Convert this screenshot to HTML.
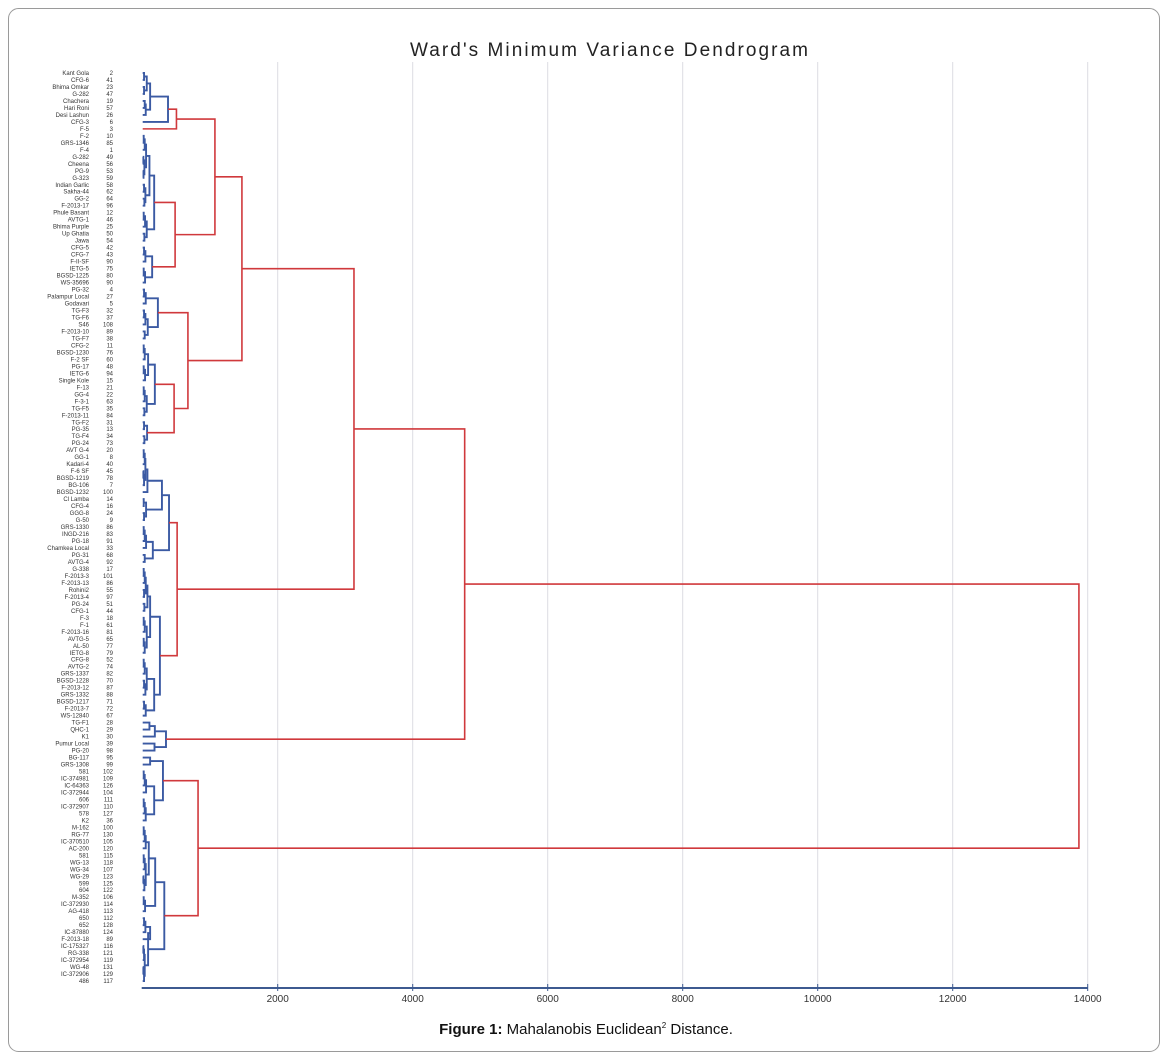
<!DOCTYPE html>
<html><head><meta charset="utf-8"><style>
body{margin:0;background:#fff;}
svg{display:block;font-family:"Liberation Sans",sans-serif;}
</style></head><body>
<svg id="chart" width="1167" height="1063" viewBox="0 0 1167 1063" xmlns="http://www.w3.org/2000/svg">
<rect x="8.5" y="8.5" width="1151" height="1043" rx="10" fill="#fff" stroke="#9a9a9a" stroke-width="1"/>
<text x="410" y="56" font-size="19" textLength="398" lengthAdjust="spacing" fill="#222">Ward's Minimum Variance Dendrogram</text>
<text x="586" y="1034" text-anchor="middle" font-size="15" fill="#111"><tspan font-weight="bold">Figure 1:</tspan> Mahalanobis Euclidean<tspan font-size="8" dy="-6">2</tspan><tspan dy="6"> Distance.</tspan></text>
<g id="grid"></g><g id="axis"></g><g id="labels"></g><g id="tree"></g>
</svg>
<script>
const leafNames=["Kant Gola","CFG-6","Bhima Omkar","G-282","Chachera","Hari Roni","Desi Lashun","CFG-3","F-5","F-2","GRS-1346","F-4","G-282","Cheena","PG-9","G-323","Indian Garlic","Sakha-44","GG-2","F-2013-17","Phule Basant","AVTG-1","Bhima Purple","Up Ghatia","Jawa","CFG-5","CFG-7","F-II-SF","IETG-5","BGSD-1225","WS-35696","PG-32","Palampur Local","Godavari","TG-F3","TG-F6","S46","F-2013-10","TG-F7","CFG-2","BGSD-1230","F-2 SF","PG-17","IETG-6","Single Kole","F-13","GG-4","F-3-1","TG-F5","F-2013-11","TG-F2","PG-35","TG-F4","PG-24","AVT G-4","GG-1","Kadari-4","F-6 SF","BGSD-1219","BG-106","BGSD-1232","Cl Lamba","CFG-4","GGG-8","G-50","GRS-1330","INGD-216","PG-18","Chamkea Local","PG-31","AVTG-4","G-338","F-2013-3","F-2013-13","Rohini2","F-2013-4","PG-24","CFG-1","F-3","F-1","F-2013-16","AVTG-5","AL-50","IETG-8","CFG-8","AVTG-2","GRS-1337","BGSD-1228","F-2013-12","GRS-1332","BGSD-1217","F-2013-7","WS-12840","TG-F1","QHC-1","K1","Pumur Local","PG-20","BG-117","GRS-1308","581","IC-374981","IC-64363","IC-372944","606","IC-372907","578","K2","M-162","RG-77","IC-370510","AC-200","581","WG-13","WG-34","WG-29","599","604","M-352","IC-372930","AG-418","650","652","IC-87880","F-2013-18","IC-175327","RG-338","IC-372954","WG-48","IC-372906","486"];
const leafIds=["2","41","23","47","19","57","26","6","3","10","85","1","49","56","53","59","58","62","64","96","12","46","25","50","54","42","43","90","75","80","90","4","27","5","32","37","108","89","38","11","76","60","48","94","15","21","22","63","35","84","31","13","34","73","20","8","40","45","78","7","100","14","16","24","9","86","83","91","33","68","92","17","101","86","55","97","51","44","18","61","81","65","77","79","52","74","82","70","87","88","71","72","67","28","29","30","39","98","95","99","102","109","126","104","111","110","127","36","100","130","105","120","115","118","107","123","125","122","106","114","113","112","128","124","89","116","121","119","131","129","117"];
const xTicks=[2000,4000,6000,8000,10000,12000,14000];
// cluster merges: (left,right)height ; leaves are 1-based indices
const G1="((((1,2)20,(3,4)20)60,((5,6)30,7)45)110,8)375";
const G2="(((((10,11)15,12)30,((13,14)10,(15,16)12)25)50,((17,18)20,(19,20)25)40)100,(((21,22)15,23)35,(24,25)25)60)170";
const G3="(((26,27)20,28)40,((29,30)15,31)35)140";
const G4="(((32,33)20,34)45,(((35,36)20,37)40,(38,39)30)75)225";
const G5="((((40,41)15,42)30,((43,44)15,45)35)80,(((46,47)15,48)30,(49,50)25)60)180";
const G6="((51,52)20,(53,54)25)65";
const G7="((((((55,56)15,57)30,((58,59)10,60)20)40,61)70,((62,63)15,(64,65)20)50)285,((((66,67)15,68)30,69)50,(70,71)30)150)390";
const G8="((((((72,73)15,74)30,(75,76)20)45,(77,78)25)70,(((79,80)15,81)30,((82,83)15,84)30)60)110,((((85,86)15,87)30,((88,89)20,90)40)60,((91,92)20,93)45)170)255";
const A2="(((94,95)100,96)180,(97,98)175)345";
const B1="((99,100)110,((((101,102)15,103)30,104)50,(((105,106)15,107)30,108)45)170)300";
const B2="((((((109,110)15,111)30,112)45,(((113,114)15,115)30,((116,117)10,118)25)45)90,((119,120)15,121)35)185,((((122,123)20,124)40,125)110,(((126,127)10,128)20,((129,130)10,131)20)30)80)320";
const mergeHeights={Na:500,Nb:480,Nab:1070,Nc:465,Nd:670,Ne:1470,Nf:510,A1:3130,A:4770,B:820,root:13870};
const treeStr="(((((("+G1+",9)"+mergeHeights.Na+",("+G2+","+G3+")"+mergeHeights.Nb+")"+mergeHeights.Nab+",("+G4+",("+G5+","+G6+")"+mergeHeights.Nc+")"+mergeHeights.Nd+")"+mergeHeights.Ne+",("+G7+","+G8+")"+mergeHeights.Nf+")"+mergeHeights.A1+","+A2+")"+mergeHeights.A+",("+B1+","+B2+")"+mergeHeights.B+")"+mergeHeights.root;

const NS="http://www.w3.org/2000/svg";
const X0=142.7, PX=0.0675, Y0=73, DY=6.985, AXY=988, RED_T=450;
const xs=v=>X0+v*PX;
const ys=i=>Y0+(i-1)*DY;
function mk(tag,attrs,parent){const e=document.createElementNS(NS,tag);for(const k in attrs)e.setAttribute(k,attrs[k]);parent.appendChild(e);return e;}

const grid=document.getElementById('grid'), axis=document.getElementById('axis');
xTicks.forEach(t=>{
  const g=mk('line',{x1:xs(t),x2:xs(t),y1:62,y2:AXY,stroke:'#dcdce2','stroke-width':1},grid);
  
  
  const tk=mk('line',{x1:xs(t),x2:xs(t),y1:AXY-4,y2:AXY+3,stroke:'#3d5a90','stroke-width':1},axis);
  
  
  const lb=mk('text',{x:xs(t),y:AXY+14,'text-anchor':'middle','font-size':10,fill:'#333'},axis);
  lb.textContent=t;
  
  
});
const ax=mk('line',{x1:X0-1,x2:xs(14000),y1:AXY,y2:AXY,stroke:'#3d5a90','stroke-width':2},axis);



const lab=document.getElementById('labels');
leafNames.forEach((n,k)=>{
  const y=ys(k+1)+2;
  const t=mk('text',{x:89,y:y,'text-anchor':'end','font-size':6,fill:'#333'},lab);
  t.textContent=n;
  
  
  const u=mk('text',{x:113,y:y,'text-anchor':'end','font-size':6,fill:'#333'},lab);
  u.textContent=leafIds[k];
  
  
});

let p=0;
function num(){let s=p;while(p<treeStr.length&&/[0-9.]/.test(treeStr[p]))p++;return parseFloat(treeStr.slice(s,p));}
function parse(){
  if(treeStr[p]==='('){p++;const l=parse();p++;const r=parse();p++;const h=num();return {l,r,h};}
  return {leaf:num()};
}
const root=parse();
const tg=document.getElementById('tree');
function draw(n){
  if(n.leaf!==undefined)return {y:ys(n.leaf),h:0};
  const a=draw(n.l), b=draw(n.r);
  const red=n.h>RED_T;
  const path=mk('path',{d:`M${xs(a.h)},${a.y}H${xs(n.h)}V${b.y}H${xs(b.h)}`,fill:'none',stroke:red?'#d0393c':'#3b5aa3','stroke-width':red?1.6:1.9},tg);
  
  
  return {y:(a.y+b.y)/2,h:n.h};
}
draw(root);
</script>
</body></html>
